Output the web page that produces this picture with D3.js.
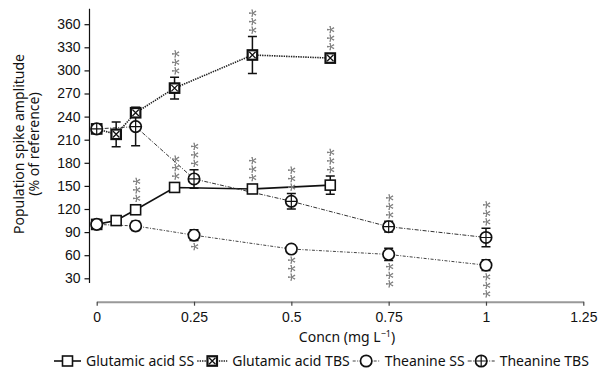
<html>
<head>
<style>
body { margin: 0; padding: 0; background: #fff; }
svg { display: block; font-family: "Noto Sans", sans-serif; }
.tick text { font-size: 14px; fill: #111; }
.stars { font-size: 16px; fill: #808080; letter-spacing: -0.3px; }
</style>
<script src="https://cdnjs.cloudflare.com/ajax/libs/d3/7.8.5/d3.min.js"></script>
</head>
<body>
<svg id="chart" width="603" height="370"></svg>
<script>
// concentrations (mg/L)
var concGA = [0, 0.05, 0.1, 0.2, 0.4, 0.6];
var concTh = [0, 0.1, 0.25, 0.5, 0.75, 1];

// population spike amplitude, % of reference, with error bars
var gaSS = [100, 105, 119, 148, 146, 151];
var gaSSErr = [3, 4, 5, 4, 4, 12];
var gaTBS = [224, 217, 245, 277, 320, 316];
var gaTBSErr = [3, 16, 4, 14, 24, 4];
var thSS = [100, 98, 86, 68, 61, 47];
var thSSErr = [3, 6, 7, 5, 8, 7];
var thTBS = [224, 227, 159, 130, 97, 83];
var thTBSErr = [3, 25, 12, 10, 7, 12];

// significance marks
var gaSSStars = ["", "", "***", "***", "***", "***"];
var gaTBSStars = ["", "", "", "***", "***", "***"];
var thSSStars = ["", "", "*", "***", "***", "***"];
var thTBSStars = ["", "", "***", "***", "***", "***"];

var xTicks = [0, 0.25, 0.5, 0.75, 1, 1.25];
var yTicks = [30, 60, 90, 120, 150, 180, 210, 240, 270, 300, 330, 360];
var seriesNames = ["Glutamic acid SS", "Glutamic acid TBS", "Theanine SS", "Theanine TBS"];

var svg = d3.select("#chart");

// greyscale filter so rotated stars don't get coloured fringes
svg.append("defs").append("filter").attr("id", "grey")
  .append("feColorMatrix").attr("type", "saturate").attr("values", 0);

var x = d3.scaleLinear().domain([0, 1.25]).range([96.7, 583.3]);
var y = d3.scaleLinear().domain([30, 360]).range([278.3, 24.2]);

function pts(c, v, e, s) {
  return c.map(function(d, i) { return {c: d, v: v[i], e: e[i], s: s[i]} });
}

var series = [
  {name: seriesNames[0], data: pts(concGA, gaSS, gaSSErr, gaSSStars), marker: "square", dash: null, width: 1.6, color: "#111", starSide: "up"},
  {name: seriesNames[1], data: pts(concGA, gaTBS, gaTBSErr, gaTBSStars), marker: "squareX", dash: "1.4,1", width: 1.6, color: "#222", starSide: "up"},
  {name: seriesNames[2], data: pts(concTh, thSS, thSSErr, thSSStars), marker: "circle", dash: "3,1.5,1,1.5", width: 1, color: "#444", starSide: "down"},
  {name: seriesNames[3], data: pts(concTh, thTBS, thTBSErr, thTBSStars), marker: "circlePlus", dash: "4,1.5,1,1.5", width: 1, color: "#333", starSide: "up"}
];

// x axis
var xAxis = svg.append("g")
  .attr("transform", "translate(0,301.7)")
  .call(d3.axisBottom(x).tickValues(xTicks).tickFormat(function(d) { return String(d) })
    .tickSize(4).tickSizeOuter(0).tickPadding(6));
xAxis.select(".domain").attr("stroke", "#999").attr("stroke-width", 2);
xAxis.selectAll(".tick line").attr("stroke", "#444").attr("stroke-width", 1.2);

// y axis
var yAxis = svg.append("g")
  .attr("transform", "translate(89.5,0)")
  .call(d3.axisLeft(y).tickValues(yTicks).tickSize(5).tickPadding(4));
yAxis.select(".domain").remove();
yAxis.append("line")
  .attr("x1", 0).attr("x2", 0)
  .attr("y1", y(380)).attr("y2", y(24))
  .attr("stroke", "#111").attr("stroke-width", 1.2);
yAxis.selectAll(".tick line").attr("stroke", "#111").attr("stroke-width", 1.2);

// axis titles
svg.append("text")
  .attr("transform", "translate(19,144) rotate(-90)")
  .attr("text-anchor", "middle")
  .attr("dy", "0.35em")
  .style("font-size", "14px").attr("fill", "#111")
  .text("Population spike amplitude");
svg.append("text")
  .attr("transform", "translate(34,144) rotate(-90)")
  .attr("text-anchor", "middle")
  .attr("dy", "0.35em")
  .style("font-size", "14px").attr("fill", "#111")
  .text("(% of reference)");

var xt = svg.append("text")
  .attr("x", 347).attr("y", 342)
  .attr("text-anchor", "middle")
  .style("font-size", "14px").attr("fill", "#111");
xt.append("tspan").text("Concn (mg L");
xt.append("tspan").attr("dy", -5).style("font-size", "9px").text("\u22121");
xt.append("tspan").attr("dy", 5).text(")");

// markers
function drawMarker(g, type, cx, cy) {
  if (type == "square" || type == "squareX") {
    var s = type == "square" ? 10 : 9.5;
    g.append("rect")
      .attr("x", cx - s / 2).attr("y", cy - s / 2)
      .attr("width", s).attr("height", s)
      .attr("fill", "#fff").attr("stroke", "#111")
      .attr("stroke-width", type == "square" ? 1.6 : 2.2);
    if (type == "squareX") {
      var h = s / 2 - 1.5;
      g.append("path")
        .attr("d", "M" + (cx - h) + "," + (cy - h) + "L" + (cx + h) + "," + (cy + h) +
                   "M" + (cx - h) + "," + (cy + h) + "L" + (cx + h) + "," + (cy - h))
        .attr("stroke", "#111").attr("stroke-width", 1.3);
    }
  } else {
    var r = 5.7;
    g.append("circle")
      .attr("cx", cx).attr("cy", cy).attr("r", r)
      .attr("fill", "#fff").attr("stroke", "#111").attr("stroke-width", 1.7);
    if (type == "circlePlus") {
      g.append("path")
        .attr("d", "M" + (cx - r) + "," + cy + "L" + (cx + r) + "," + cy +
                   "M" + cx + "," + (cy - r) + "L" + cx + "," + (cy + r))
        .attr("stroke", "#111").attr("stroke-width", 1.2);
    }
  }
}

var line = d3.line()
  .x(function(d) { return x(d.c) })
  .y(function(d) { return y(d.v) });

var plot = svg.append("g");

// lines
series.forEach(function(s) {
  plot.append("path")
    .datum(s.data)
    .attr("d", line)
    .attr("fill", "none")
    .attr("stroke", s.color)
    .attr("stroke-width", s.width)
    .attr("stroke-dasharray", s.dash);
});

// error bars
series.forEach(function(s) {
  s.data.forEach(function(d) {
    var cx = x(d.c), y1 = y(d.v + d.e), y2 = y(d.v - d.e);
    plot.append("path")
      .attr("d", "M" + cx + "," + y1 + "L" + cx + "," + y2 +
                 "M" + (cx - 4.5) + "," + y1 + "L" + (cx + 4.5) + "," + y1 +
                 "M" + (cx - 4.5) + "," + y2 + "L" + (cx + 4.5) + "," + y2)
      .attr("stroke", "#111").attr("stroke-width", 1.5).attr("fill", "none");
  });
});

// markers
series.forEach(function(s) {
  s.data.forEach(function(d) {
    drawMarker(plot, s.marker, x(d.c), y(d.v));
  });
});

// significance stars, written vertically
var starG = svg.append("g").attr("filter", "url(#grey)");
series.forEach(function(s) {
  s.data.forEach(function(d) {
    if (!d.s) return;
    var cx = x(d.c), cy, anchor;
    if (s.starSide == "up") {
      cy = Math.min(y(d.v + d.e), y(d.v) - 5) - 2;
      anchor = "start";
    } else {
      cy = Math.max(y(d.v - d.e), y(d.v) + 5) + 2;
      anchor = "end";
    }
    starG.append("text")
      .attr("class", "stars")
      .attr("transform", "translate(" + cx + "," + cy + ") rotate(-90)")
      .attr("text-anchor", anchor)
      .attr("dy", "0.56em")
      .text(d.s);
  });
});

// legend
var lg = svg.append("g").attr("transform", "translate(0,361)");
var lx = 54;
series.forEach(function(s, i) {
  var symW = i == 1 ? 30 : 27;
  lg.append("line")
    .attr("x1", lx).attr("x2", lx + symW)
    .attr("y1", 0).attr("y2", 0)
    .attr("stroke", s.color).attr("stroke-width", s.width)
    .attr("stroke-dasharray", s.dash);
  drawMarker(lg, s.marker, lx + symW / 2, 0);
  var t = lg.append("text")
    .attr("x", lx + symW + 5)
    .attr("dy", "0.35em")
    .style("font-size", "14px").attr("fill", "#111")
    .text(s.name);
  lx = lx + symW + 5 + t.node().getComputedTextLength() + 3;
});
</script>
</body>
</html>
